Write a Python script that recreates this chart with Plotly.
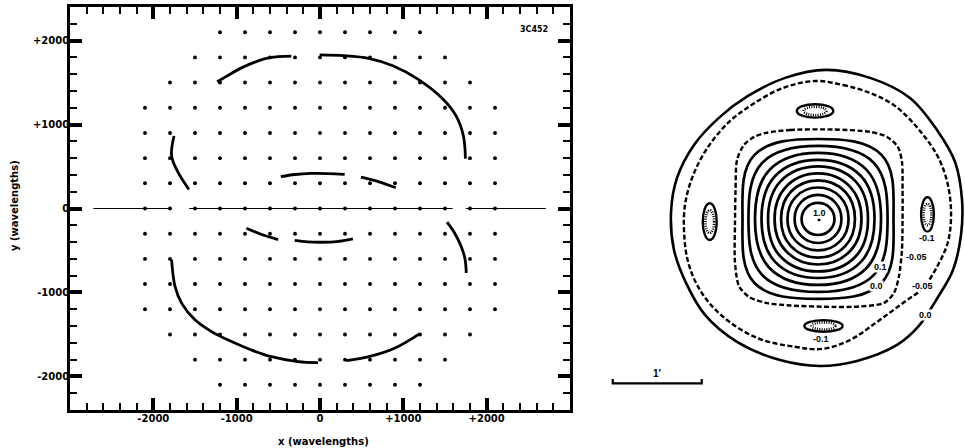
import numpy as np
import plotly.graph_objects as go

# ---------------- u-v coverage (units: wavelengths) ----------------
# sampling grid: one row per v value, with the u half-extent of that row
row_v = [2100, 1800, 1500, 1200, 900, 600, 300, 0,
         -300, -600, -900, -1200, -1500, -1800, -2100]
row_u_half = [1200, 1500, 1800, 2100, 2100, 2100, 2100, 2100,
              2100, 2100, 2100, 2100, 1800, 1500, 1200]
grid_step = 300

# baseline line along v = 0 (three pieces)
axis_segments = [(-2720, -1800), (-1570, 1590), (1750, 2710)]

# sampled u-v tracks
track_1 = [(-1234, 1509), (-1080, 1600), (-930, 1681), (-790, 1740), (-643, 1788), (-500, 1808), (-344, 1814)]
track_2 = [(-4, 1830), (284, 1820), (583, 1788), (874, 1700), (1174, 1541), (1477, 1302), (1633, 1103), (1721, 864), (1745, 594)]
track_3 = [(-1752, 864), (-1781, 625), (-1701, 426), (-1573, 227)]
track_4 = [(-470, 379), (-300, 405), (-108, 418), (100, 416), (296, 406)]
track_5 = [(491, 374), (700, 320), (910, 247)]
track_6 = [(-883, -235), (-700, -310), (-503, -370)]
track_7 = [(-303, -379), (-150, -397), (12, -402), (200, -395), (395, -362)]
track_8 = [(1525, -163), (1620, -300), (1693, -450), (1740, -600), (1755, -768)]
track_9 = [(-1781, -609), (-1740, -928), (-1661, -1127), (-1501, -1326), (-1302, -1466),
           (-1062, -1585), (-823, -1685), (-583, -1765), (-263, -1824), (-24, -1836)]
track_10 = [(315, -1812), (587, -1765), (894, -1665), (1194, -1493)]
tracks = [track_1, track_2, track_3, track_4, track_5, track_6, track_7, track_8, track_9, track_10]

x_tick_vals = [-2000, -1000, 0, 1000, 2000]
x_tick_text = ["-2000", "-1000", "0", "+1000", "+2000"]
y_tick_vals = [-2000, -1000, 0, 1000, 2000]
y_tick_text = ["-2000", "-1000", "0", "+1000", "+2000"]

# ---------------- synthesized beam (units: arcsec) ----------------
# positive rings 0.9 ... 0.1 and 0.0 : half-width, half-height, diagonal radius
ring_half_width = [11.1, 15.8, 20.6, 24.9, 29.3, 33.7, 38.1, 42.5, 46.9, 50.9]
ring_half_height = [10.8, 16.2, 21.2, 26.0, 30.7, 35.4, 39.8, 44.5, 49.2, 53.9]
ring_diag = [11.0, 16.1, 21.1, 25.9, 30.6, 35.8, 40.9, 46.5, 53.3, 60.8]

# -0.05 contour just outside the main lobe
inner_neg_x = [-35.1, -18.9, 10.1, 35.1, 46.5, 53.9, 56.6, 57.0, 57.0, 56.6, 54.6, 51.2, 44.5,
               28.3, 10.1, -18.9, -35.1, -46.5, -53.3, -56.0, -56.0, -55.6, -54.6, -49.9, -43.1]
inner_neg_y = [58.0, 60.0, 60.3, 58.7, 55.3, 48.5, 38.4, 19.6, -0.7, -20.9, -38.4, -49.9, -56.6,
               -59.0, -59.3, -58.3, -56.6, -52.6, -45.2, -29.0, -4.0, 19.6, 39.8, 49.9, 55.3]

# outer -0.05 contour
outer_neg_x = [-2.0, 16.9, 35.1, 51.9, 68.8, 80.9, 87.6, 89.7, 87.6, 80.9, 70.8, 57.3, 39.8, 21.6,
               2.7, -14.8, -41.1, -64.7, -79.6, -87.6, -90.3, -89.7, -84.9, -75.5, -60.7, -43.8, -23.6]
outer_neg_y = [93.0, 90.3, 84.9, 76.2, 59.3, 41.8, 22.9, 2.7, -15.5, -31.0, -46.5, -56.6, -69.4, -81.6,
               -87.6, -86.3, -80.2, -65.4, -47.9, -29.0, -8.8, 9.4, 27.6, 46.5, 64.7, 77.5, 88.3]

# outer 0.0 contour
outer_zero_x = [5.4, 35.1, 62.0, 80.2, 92.4, 97.1, 96.4, 91.0, 80.9, 67.4, 53.3, 26.3, 1.3, -25.6,
                -54.6, -76.2, -89.0, -97.1, -99.1, -95.1, -83.6, -66.1, -47.2, -22.2]
outer_zero_y = [100.5, 95.1, 81.6, 60.0, 38.4, 12.8, -10.8, -34.4, -52.6, -72.8, -84.9, -95.7, -99.1, -95.1,
                -82.9, -64.7, -43.1, -20.9, 4.7, 27.6, 49.9, 68.8, 82.9, 95.1]

# -0.1 depressions: centre and half-sizes
hole_x = [-2.0, -73.0, 73.8, 3.7]
hole_y = [72.8, -1.8, 3.0, -72.1]
hole_hw = [12.3, 4.7, 4.3, 12.9]
hole_hh = [4.5, 12.4, 11.6, 3.9]

beam_label_text = ["1.0", "0.1", "0.0", "-0.05", "-0.05", "0.0", "-0.1", "-0.1"]
beam_label_x = [1.0, 41.8, 39.4, 66.1, 70.5, 72.5, 73.8, 2.0]
beam_label_y = [4.0, -32.4, -45.2, -25.6, -45.5, -64.7, -12.5, -80.9]

scale_bar_arcsec = 60

# ---------------- figure ----------------
W, H = 965, 448
fig = go.Figure()

# grid dots
gx, gy = [], []
for v, half in zip(row_v, row_u_half):
    us = np.arange(-half, half + 1, grid_step)
    gx.extend(us.tolist())
    gy.extend([v] * len(us))
fig.add_trace(go.Scatter(x=gx, y=gy, mode="markers", xaxis="x", yaxis="y",
                         marker=dict(size=3.9, color="black"), hoverinfo="skip"))

for a, b in axis_segments:
    fig.add_trace(go.Scatter(x=[a, b], y=[0, 0], mode="lines", xaxis="x", yaxis="y",
                             line=dict(color="black", width=1.2), hoverinfo="skip"))

for tr in tracks:
    fig.add_trace(go.Scatter(x=[p[0] for p in tr], y=[p[1] for p in tr], mode="lines",
                             xaxis="x", yaxis="y",
                             line=dict(color="black", width=2.8, shape="spline", smoothing=1.0),
                             hoverinfo="skip"))

# beam rings (closed splines through eight points each)
c45 = np.sqrt(0.5)
for hw, hh, d in zip(ring_half_width, ring_half_height, ring_diag):
    xs = [hw, d * c45, 0, -d * c45, -hw, -d * c45, 0, d * c45, hw]
    ys = [0, d * c45, hh, d * c45, 0, -d * c45, -hh, -d * c45, 0]
    fig.add_trace(go.Scatter(x=xs, y=ys, mode="lines", xaxis="x2", yaxis="y2",
                             line=dict(color="black", width=2.7, shape="spline", smoothing=1.12),
                             hoverinfo="skip"))


def closed(seq):
    return list(seq) + [seq[0]]


fig.add_trace(go.Scatter(x=closed(inner_neg_x), y=closed(inner_neg_y), mode="lines",
                         xaxis="x2", yaxis="y2",
                         line=dict(color="black", width=2.4, dash="5px,2.5px", shape="spline", smoothing=0.8),
                         hoverinfo="skip"))
fig.add_trace(go.Scatter(x=closed(outer_neg_x), y=closed(outer_neg_y), mode="lines",
                         xaxis="x2", yaxis="y2",
                         line=dict(color="black", width=2.4, dash="5px,2.5px", shape="spline", smoothing=1.0),
                         hoverinfo="skip"))
fig.add_trace(go.Scatter(x=closed(outer_zero_x), y=closed(outer_zero_y), mode="lines",
                         xaxis="x2", yaxis="y2",
                         line=dict(color="black", width=2.6, shape="spline", smoothing=1.0),
                         hoverinfo="skip"))

# centre marker
fig.add_trace(go.Scatter(x=[0.7], y=[-0.5], mode="markers", xaxis="x2", yaxis="y2",
                         marker=dict(size=3, color="black"), hoverinfo="skip"))

shapes = []
for cx, cy, hw, hh in zip(hole_x, hole_y, hole_hw, hole_hh):
    shapes.append(dict(type="circle", xref="x2", yref="y2",
                       x0=cx - hw, x1=cx + hw, y0=cy - hh, y1=cy + hh,
                       line=dict(color="black", width=2.4)))
    shapes.append(dict(type="circle", xref="x2", yref="y2",
                       x0=cx - hw * 0.62, x1=cx + hw * 0.62, y0=cy - hh * 0.62, y1=cy + hh * 0.62,
                       line=dict(color="black", width=2.6, dash="1px,1.3px")))

# 1 arcmin scale bar
bar_x0, bar_y = -138.4, -110.8
bar_tick = 2.9
fig.add_trace(go.Scatter(x=[bar_x0, bar_x0, bar_x0 + scale_bar_arcsec, bar_x0 + scale_bar_arcsec],
                         y=[bar_y + bar_tick, bar_y, bar_y, bar_y + bar_tick], mode="lines",
                         xaxis="x2", yaxis="y2", line=dict(color="black", width=2.2),
                         hoverinfo="skip"))

annotations = []
for t, lx, ly in zip(beam_label_text, beam_label_x, beam_label_y):
    annotations.append(dict(x=lx, y=ly, xref="x2", yref="y2", text=t, showarrow=False,
                            xanchor="center", yanchor="middle",
                            font=dict(family="Liberation Sans", size=9, color="black", weight="bold"),
                            bgcolor="white", borderpad=0))
annotations.append(dict(x=bar_x0 + scale_bar_arcsec / 2, y=bar_y + 6.3, xref="x2", yref="y2",
                        text="1′", showarrow=False, xanchor="center", yanchor="middle",
                        font=dict(family="Liberation Sans", size=10, color="black", weight="bold")))

axis_font = dict(family="DejaVu Sans", size=10, color="black", weight="bold")
annotations.append(dict(x=323.5 / W, y=1 - 441 / H, xref="paper", yref="paper",
                        xanchor="center", yanchor="middle",
                        text="x (wavelengths)", showarrow=False, font=axis_font))
annotations.append(dict(x=14 / W, y=1 - 206 / H, xref="paper", yref="paper",
                        xanchor="center", yanchor="middle",
                        text="y (wavelengths)", showarrow=False, textangle=-90, font=axis_font))
annotations.append(dict(x=534 / W, y=1 - 29 / H, xref="paper", yref="paper",
                        xanchor="center", yanchor="middle",
                        text="3C452", showarrow=False,
                        font=dict(family="DejaVu Sans", size=8, color="black", weight="bold")))

common_axis = dict(ticks="inside", ticklen=12, tickwidth=3.5, tickcolor="black",
                   showline=True, linewidth=2.6, linecolor="black", mirror="allticks",
                   showgrid=False, zeroline=False, tickfont=axis_font, fixedrange=True,
                   minor=dict(dtick=200, tick0=0, ticks="inside", ticklen=7, tickwidth=1.5,
                              tickcolor="black", showgrid=False))

fig.update_layout(
    width=W, height=H, margin=dict(l=0, r=0, t=0, b=0),
    paper_bgcolor="white", plot_bgcolor="white", showlegend=False,
    xaxis=dict(domain=[70 / W, 570 / W], range=[-3000, 3000], anchor="y",
               tickmode="array", tickvals=x_tick_vals, ticktext=x_tick_text,
               ticklabelstandoff=-3, **common_axis),
    yaxis=dict(domain=[1 - 410 / H, 1 - 7 / H], range=[-2400, 2400], anchor="x",
               tickmode="array", tickvals=y_tick_vals, ticktext=y_tick_text,
               ticklabelstandoff=-4, **common_axis),
    xaxis2=dict(domain=[600 / W, 1.0], range=[-147.0, 99.1], anchor="y2", visible=False, fixedrange=True),
    yaxis2=dict(domain=[0.0, 1.0], range=[-154.4, 147.6], anchor="x2", visible=False, fixedrange=True),
    shapes=shapes, annotations=annotations,
)

fig.write_html("out.html")
